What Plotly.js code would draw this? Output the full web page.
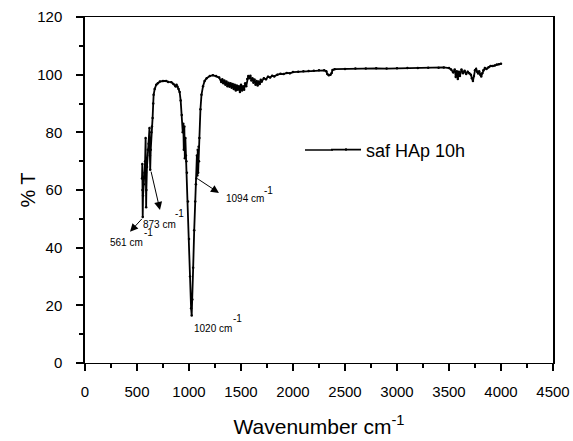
<!DOCTYPE html>
<html>
<head>
<meta charset="utf-8">
<script src="https://cdn.plot.ly/plotly-3.0.1.min.js"></script>
<style>html,body{margin:0;padding:0;background:#fff}#chart{width:573px;height:441px}</style>
</head>
<body>
<div id="chart"></div>
<script>
// Wavenumber (cm^-1) and transmittance (%)
const wavenumber = [
548,551,553,555,558,565,572,578,583,586,588,590,596,604,612,620,624,627,632,638,644,650,656,660,670,685,700,720,750,780,800,830,850,870,880,890,900,910,920,930,940,945,950,955,960,965,970,975,980,990,1000,1010,1020,1026,1032,1040,1050,1060,1066,1072,1076,1080,1084,1088,1092,1096,1100,1110,1120,1135,1150,1170,1200,1230,1260,1290,1310,1320,1330,1340,1350,1360,1370,1380,1390,1400,1410,1420,1430,1440,1450,1460,1470,1480,1490,1500,1510,1520,1530,1540,1550,1560,1570,1580,1590,1600,1610,1620,1630,1640,1650,1660,1670,1680,1690,1700,1720,1740,1760,1780,1800,1820,1850,1880,1910,1940,1970,2000,2050,2100,2150,2200,2250,2300,2320,2330,2345,2360,2372,2380,2400,2500,2600,2700,2800,2900,3000,3100,3200,3300,3400,3450,3500,3520,3540,3555,3565,3575,3585,3595,3605,3620,3635,3650,3665,3680,3695,3710,3720,3730,3740,3750,3760,3770,3780,3790,3800,3810,3820,3830,3845,3860,3880,3900,3920,3940,3960,3980,4000
];
const transmittance = [
64,69,60,50.6,58,62,66,70,78,66,54,60,68,74,76,81.5,72,67,74,80,82,85,90,93,95,96.5,97,97.6,97.8,97.8,97.5,97.4,96.8,96,96.5,95.8,95,94,91,86,80,83,74,82,71,78,72,70,66,56,43,30,19,16.5,22,33,46,56,62,64,72,65,74,66,75,70,78,88,93,96,97.8,98.8,99.5,99.8,99.5,99,97.5,98.4,97,98,96.5,97.6,96,97.2,95.8,97,95.5,96.8,95,96.5,94.5,96.2,94.8,96,94,96.5,94.5,96,94.8,97,96,98.5,99.5,98.8,99.6,98,98.8,97.2,98.3,96.5,97.8,96.2,97.6,96.8,98.2,97.6,98.8,98.4,99.3,99,99.6,99.4,100,100.3,100.2,100.6,100.5,100.9,101,101.2,101.3,101.4,101.5,101.5,101.2,100.2,99.8,100,100.6,101.6,101.9,102,102.1,102.1,102.2,102.1,102.2,102.3,102.3,102.4,102.4,102.5,102.3,101.8,100.8,101.8,99.2,101.2,98.5,101,99.5,101.8,100.5,101.4,100.2,101,100.5,100,98.8,97.8,99.5,101.5,102,101,100.4,101.2,100,99.4,100.5,101.5,102.3,102,102.6,103,103,103.2,103.5,103.6,103.8
];
const seriesName = "saf HAp 10h";

// Band labels: [text, x, y] and superscript parts
const bandLabels = [
  ["561 cm", 399, 41.7], ["873 cm", 712, 48.2], ["1020 cm", 1231, 12.1], ["1094 cm", 1538, 56.9]
];
const bandSups = [
  ["-1", 606, 45.1], ["-1", 913, 51.7], ["-1", 1471, 15.6], ["-1", 1769, 59.8]
];
// Arrows: [headX, headY, tailX, tailY]
const bandArrows = [
  [433, 45.5, 560, 50.5], [721, 53.1, 632, 66.9], [1288, 59.0, 1074, 64.1]
];

const FONT = "Arial, 'Liberation Sans', sans-serif";
const CLEAR = 'rgba(0,0,0,0)';

const annotations = [];
bandLabels.forEach(b => annotations.push({x:b[1], y:b[2], xref:'x', yref:'y', text:b[0], showarrow:false, font:{family:FONT, size:10, color:'black'}}));
bandSups.forEach(b => annotations.push({x:b[1], y:b[2], xref:'x', yref:'y', text:b[0], showarrow:false, font:{family:FONT, size:10, color:'black'}}));
bandArrows.forEach(a => annotations.push({x:a[0], y:a[1], xref:'x', yref:'y', ax:a[2], ay:a[3], axref:'x', ayref:'y', text:'', showarrow:true, arrowhead:2, arrowsize:1.6, arrowwidth:1, arrowcolor:'black'}));

const trace = {
  x: wavenumber, y: transmittance, name: seriesName, type: 'scatter', mode: 'lines+markers',
  line: {color:'black', width:1.8}, marker: {color:'black', size:2.5}
};

// legend sample line extension (paper coords) so the sample matches the longer reference line
const shapes = [
  {type:'line', xref:'paper', yref:'paper', x0:(305-85)/468, x1:(333-85)/468, y0:(363-150)/346, y1:(363-150)/346, line:{color:'black', width:1.5}}
];

const layout = {
  width: 573, height: 441,
  margin: {l:85, r:20, t:17, b:78},
  paper_bgcolor: 'white', plot_bgcolor: 'white',
  font: {family: FONT, color: 'black'},
  showlegend: true,
  legend: {x:0.515, xanchor:'left', y:0.616, yanchor:'middle', font:{family:FONT, size:18, color:'black'}, bgcolor:CLEAR},
  xaxis: {
    range:[0,4500], dtick:500, gridcolor:CLEAR, zerolinecolor:CLEAR,
    showline:true, linecolor:'black', mirror:true,
    ticks:'outside', ticklen:7, tickwidth:2, tickcolor:'black',
    minor:{dtick:250, ticks:'outside', ticklen:4, tickwidth:1.5, tickcolor:'black', gridcolor:CLEAR},
    tickfont:{family:FONT, size:15, color:'black'}, ticklabelstandoff: 8,
    title:{text:'Wavenumber cm<sup>-1</sup>', font:{family:FONT, size:21, color:'black'}, standoff:20}
  },
  yaxis: {
    range:[0,120], dtick:20, gridcolor:CLEAR, zerolinecolor:CLEAR,
    showline:true, linecolor:'black', linewidth:1.5, mirror:true,
    ticks:'outside', ticklen:7, tickwidth:2, tickcolor:'black',
    minor:{dtick:10, ticks:'outside', ticklen:4, tickwidth:1.5, tickcolor:'black', gridcolor:CLEAR},
    tickfont:{family:FONT, size:15, color:'black'}, ticklabelstandoff: 11,
    title:{text:'% T', font:{family:FONT, size:20, color:'black'}}
  },
  shapes: shapes,
  annotations: annotations
};

Plotly.newPlot('chart', [trace], layout, {displayModeBar:false});
</script>
</body>
</html>
